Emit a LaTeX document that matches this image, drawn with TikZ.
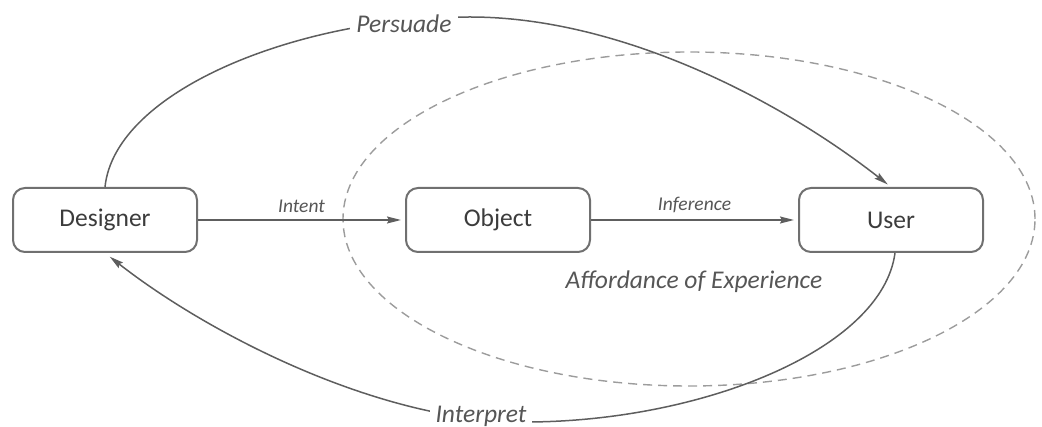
\documentclass[tikz,border=0pt]{standalone}
\usepackage{fontspec}
\setmainfont{Carlito}
\usetikzlibrary{arrows.meta}
\definecolor{boxline}{HTML}{707070}
\definecolor{boxtext}{HTML}{3C3C3C}
\definecolor{flow}{HTML}{5E5E5E}
\definecolor{labtext}{HTML}{565656}
\definecolor{region}{HTML}{9C9C9C}
\begin{document}
\begin{tikzpicture}[x=1pt,y=-1pt,
  actor/.style={draw=boxline, line width=2pt, rounded corners=12pt, fill=white,
    minimum width=184pt, minimum height=64pt, inner sep=0pt,
    text=boxtext, font=\fontsize{25.5}{30}\selectfont},
  flowline/.style={draw=flow, line width=1.5pt,
    -{Stealth[length=14pt,width=7pt,inset=2pt]}, shorten >=4pt},
  biglabel/.style={text=labtext, font=\fontsize{25.5}{30}\selectfont\itshape},
  smalllabel/.style={text=labtext, font=\fontsize{19.5}{24}\selectfont\itshape},
  gap/.style={fill=white, inner sep=6pt}]
\useasboundingbox (0,0) rectangle (1042,427);

% dashed region around object and user
\draw[region, line width=1.4pt, dash pattern=on 9pt off 6pt]
  (689,219) ellipse [x radius=346pt, y radius=167pt];

% actors
\node[actor] (designer) at (105,220) {Designer};
\node[actor] (object)   at (498,220) {Object};
\node[actor] (user)     at (891,220) {User};

% direct flows
\draw[flowline] (designer.east) -- node[smalllabel, above=3pt] (intent) {Intent} (object.west);
\draw[flowline] (object.east) -- node[smalllabel, above=3pt] (inference) {Inference} (user.west);

% persuade: designer over the top to the user
\draw[flowline] (designer.north)
  .. controls (115,90) and (300,17) .. (470,17)
  .. controls (620,17) and (780,100) .. (user.north);
\node[biglabel, gap] (persuade) at (404,24) {Persuade};

% interpret: user under the bottom back to the designer
\draw[flowline, shorten >=6pt] ([xshift=4pt]user.south)
  .. controls (882,350) and (700,422) .. (525,422)
  .. controls (380,422) and (210,335) .. (designer.south);
\node[biglabel, gap] (interpret) at (481,416) {Interpret};

% region caption
\node[biglabel] (afford) at (694,282) {Affordance of Experience};
\end{tikzpicture}
\end{document}
